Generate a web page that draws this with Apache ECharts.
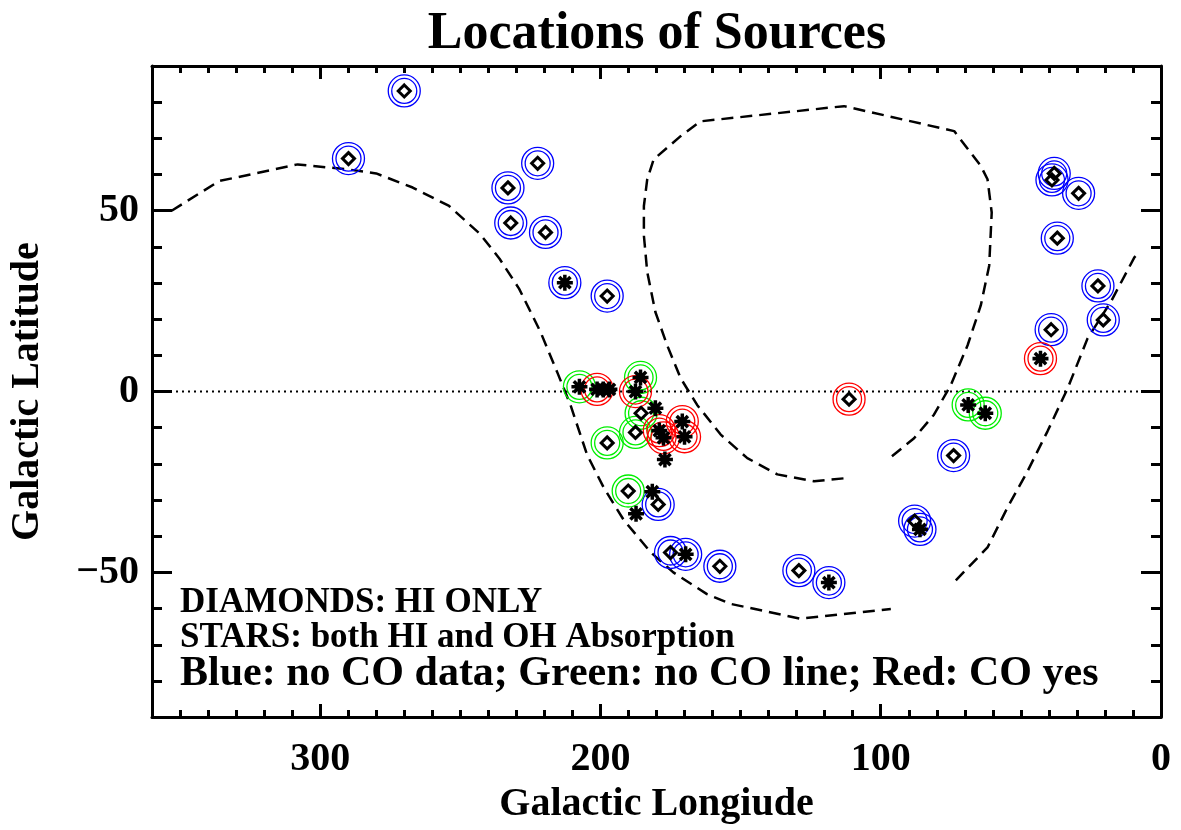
<!DOCTYPE html>
<html><head><meta charset="utf-8">
<script src="https://cdn.jsdelivr.net/npm/echarts@6/dist/echarts.min.js"></script>
<style>html,body{margin:0;padding:0;background:#fff}#c{width:1181px;height:830px}</style>
</head><body><div id="c"></div>
<script>
// ---- tick labels ----
const xTickLabels = [300, 200, 100, 0];
const yTickLabels = [50, 0, -50];

// ---- sources: [galactic longitude, galactic latitude] ----
// diamonds = HI only ; stars = HI and OH absorption
const diamondBlue = [[270,83.1],[289.9,64.4],[222.4,63.1],[233,56.3],[232,46.6],[219.6,44.0],[197.6,26.4],
  [74,-17.7],[38.1,60.3],[38.9,58.5],[29.4,54.8],[37,42.4],[22.5,29.2],[20.6,19.8],[39.2,17.1],
  [87.9,-35.8],[179.4,-31.2],[175,-44.5],[157.4,-48.3],[129.2,-49.5]];
const diamondGreen = [[185.5,-6],[187.5,-11.3],[197.6,-14.2],[190.1,-27.5]];
const diamondRed = [[111.3,-2.1]];
const starBlue = [[212.7,30.1],[86,-38.1],[169.6,-45],[118.5,-52.8]];
const starGreen = [[207.5,1.3],[185.7,3.9],[68.8,-3.7],[62.7,-6.0]];
const starRed = [[201.2,0.6],[187.5,0],[43,9.1],[179,-10.8],[177.5,-12.8],[170.8,-8.3],[170,-12.5]];
const starPlain = [[199,0.6],[196.8,0.6],[180.4,-4.6],[177,-18.8],[181.5,-27.7],[187.3,-33.8]];

// ---- dashed boundary curves ----
const outerCurve = [[353,50],[336,58.2],[308,62.8],[290,61.4],[280,60.3],[267,56.4],[254,51.3],[243,43.6],
  [236,36.7],[229,28.4],[224,20.6],[221.4,16.5],[215.5,5.5],[210.7,-3.7],[204.8,-17.4],[198.8,-26.6],
  [191.7,-35.5],[182,-44.5],[174,-50],[162,-56],[153.6,-58.7],[128.6,-62.8],[96.4,-60.1],['-','-'],
  [73.2,-52.2],[61.9,-43.1],[54.8,-32.1],[47.6,-22],[40.5,-11],[33.3,0.9],[26.2,14.7],[17.9,24.8],
  [9.5,37.1],[8,38.3]];
const innerCurve = [[96,-17.9],[88.1,-12.9],[81,-6.4],[75,1.8],[69,12.8],[64.3,23.8],[61.3,34.8],
  [60.4,49.5],[61.9,58.7],[64.3,62.4],[73.8,72],[113.1,78.9],[164.3,74.7],[171.4,70.6],[181,64.2],
  [183.3,58.7],[184.5,51.3],[184.5,43.1],[183.3,33],[180.4,22],[176.2,12.8],[171.4,3.7],[165.5,-3.7],
  [157.1,-11.9],[147.6,-18.4],[136.9,-22.9],[123.8,-24.8],[111.9,-23.9]];
const zeroLine = [[360,0],[0,0]];

const FONT = "'Liberation Serif','DejaVu Serif',serif";
const STAR = 'path://M-10,-2.2L10,-2.2L10,2.2L-10,2.2Z M-2.2,-10L2.2,-10L2.2,10L-2.2,10Z ' +
  'M-5.5,-8.6L8.6,5.5L5.5,8.6L-8.6,-5.5Z M5.5,-8.6L8.6,-5.5L-5.5,8.6L-8.6,5.5Z';

function xAx(pos, major, labels) {
  return {
    type: 'value', position: pos, min: 0, max: 360, interval: 10, inverse: true,
    axisLine: { show: !major, onZero: false, lineStyle: { color: '#000', width: 3 } },
    axisTick: Object.assign({ show: true, inside: true, length: major ? 13 : 7,
      lineStyle: { color: '#000', width: 3 } }, major ? { customValues: xTickLabels } : {}),
    axisLabel: labels ? { show: true, customValues: xTickLabels, margin: 23,
      fontFamily: FONT, fontWeight: 'bold', fontSize: 40, color: '#000' } : { show: false },
    splitLine: { show: false },
    name: labels ? 'Galactic Longiude' : '', nameLocation: 'middle', nameGap: 62,
    nameTextStyle: { fontFamily: FONT, fontWeight: 'bold', fontSize: 40, color: '#000' }
  };
}
function yAx(pos, major, labels) {
  return {
    type: 'value', position: pos, min: -90, max: 90, interval: 10,
    axisLine: { show: !major, onZero: false, lineStyle: { color: '#000', width: 3 } },
    axisTick: Object.assign({ show: true, inside: true, length: major ? 20 : 10,
      lineStyle: { color: '#000', width: 3 } }, major ? { customValues: yTickLabels } : {}),
    axisLabel: labels ? { show: true, customValues: yTickLabels, margin: 13,
      formatter: v => v < 0 ? '\u2212' + Math.abs(v) : String(v),
      fontFamily: FONT, fontWeight: 'bold', fontSize: 40, color: '#000' } : { show: false },
    splitLine: { show: false },
    name: labels ? 'Galactic Latitude' : '', nameLocation: 'middle', nameGap: 104,
    nameTextStyle: { fontFamily: FONT, fontWeight: 'bold', fontSize: 40, color: '#000' }
  };
}

function rings(data, color) {
  return [32, 25].map(s => ({
    type: 'scatter', data: data, symbol: 'circle', symbolSize: s, silent: true, z: 3,
    itemStyle: { color: 'rgba(0,0,0,0)', borderColor: color, borderWidth: 1.3, opacity: 1 }
  }));
}
function dashed(data) {
  return { type: 'line', data: data, symbol: 'none', silent: true, z: 2, connectNulls: false,
    lineStyle: { color: '#000', width: 2.5, type: [12, 7] } };
}

const series = [
  { type: 'line', data: zeroLine, symbol: 'none', silent: true, z: 2,
    lineStyle: { color: '#000', width: 2, type: [2, 4] } },
  dashed(outerCurve), dashed(innerCurve),
  ...rings(diamondBlue.concat(starBlue), '#0000ff'),
  ...rings(diamondGreen.concat(starGreen), '#00ee00'),
  ...rings(diamondRed.concat(starRed), '#ff0000'),
  ...[diamondBlue, diamondGreen, diamondRed].map(d => ({
    type: 'scatter', data: d, symbol: 'diamond', symbolSize: 12, silent: true, z: 4,
    itemStyle: { color: 'rgba(255,255,255,0)', borderColor: '#000', borderWidth: 3, opacity: 1 } })),
  ...[starBlue, starGreen, starRed, starPlain].map(d => ({
    type: 'scatter', data: d, symbol: STAR, symbolSize: 16, silent: true, z: 4,
    itemStyle: { color: '#000', opacity: 1 } }))
];

const chart = echarts.init(document.getElementById('c'));
chart.setOption({
  animation: false,
  backgroundColor: '#fff',
  title: { text: 'Locations of Sources', left: 652, top: 4, textAlign: 'center',
    textStyle: { fontFamily: FONT, fontWeight: 'bold', fontSize: 52, color: '#000' } },
  grid: { left: 152, right: 20, top: 66, bottom: 111, containLabel: false },
  xAxis: [xAx('bottom', false, true), xAx('bottom', true, false), xAx('top', false, false), xAx('top', true, false)],
  yAxis: [yAx('left', false, true), yAx('left', true, false), yAx('right', false, false), yAx('right', true, false)],
  graphic: [
    { type: 'text', left: 180, top: 585, silent: true,
      style: { text: 'DIAMONDS: HI ONLY', font: 'bold 35px ' + FONT, fill: '#000' } },
    { type: 'text', left: 180, top: 620, silent: true,
      style: { text: 'STARS: both HI and OH Absorption', font: 'bold 35px ' + FONT, fill: '#000' } },
    { type: 'text', left: 180, top: 653, silent: true,
      style: { text: 'Blue: no CO data; Green: no CO line; Red: CO yes', font: 'bold 42px ' + FONT, fill: '#000' } }
  ],
  series: series
});
</script></body></html>
